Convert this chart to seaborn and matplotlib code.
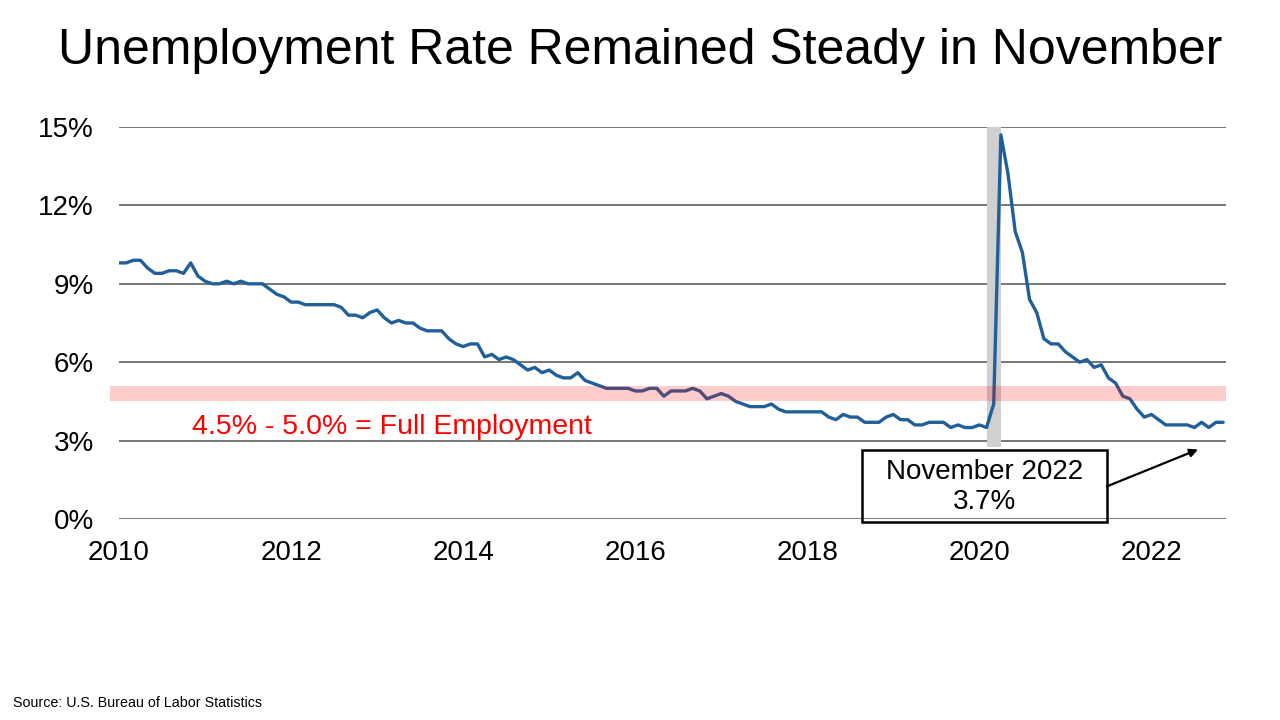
import matplotlib
matplotlib.use("Agg")
import matplotlib.pyplot as plt
from matplotlib.patches import Rectangle
import seaborn as sns
import pandas as pd

# monthly unemployment rate, Jan 2010 .. Nov 2022 (%)
rate_2010 = [9.8, 9.8, 9.9, 9.9, 9.6, 9.4, 9.4, 9.5, 9.5, 9.4, 9.8, 9.3]
rate_2011 = [9.1, 9.0, 9.0, 9.1, 9.0, 9.1, 9.0, 9.0, 9.0, 8.8, 8.6, 8.5]
rate_2012 = [8.3, 8.3, 8.2, 8.2, 8.2, 8.2, 8.2, 8.1, 7.8, 7.8, 7.7, 7.9]
rate_2013 = [8.0, 7.7, 7.5, 7.6, 7.5, 7.5, 7.3, 7.2, 7.2, 7.2, 6.9, 6.7]
rate_2014 = [6.6, 6.7, 6.7, 6.2, 6.3, 6.1, 6.2, 6.1, 5.9, 5.7, 5.8, 5.6]
rate_2015 = [5.7, 5.5, 5.4, 5.4, 5.6, 5.3, 5.2, 5.1, 5.0, 5.0, 5.0, 5.0]
rate_2016 = [4.9, 4.9, 5.0, 5.0, 4.7, 4.9, 4.9, 4.9, 5.0, 4.9, 4.6, 4.7]
rate_2017 = [4.8, 4.7, 4.5, 4.4, 4.3, 4.3, 4.3, 4.4, 4.2, 4.1, 4.1, 4.1]
rate_2018 = [4.1, 4.1, 4.1, 3.9, 3.8, 4.0, 3.9, 3.9, 3.7, 3.7, 3.7, 3.9]
rate_2019 = [4.0, 3.8, 3.8, 3.6, 3.6, 3.7, 3.7, 3.7, 3.5, 3.6, 3.5, 3.5]
rate_2020 = [3.6, 3.5, 4.4, 14.7, 13.2, 11.0, 10.2, 8.4, 7.9, 6.9, 6.7, 6.7]
rate_2021 = [6.4, 6.2, 6.0, 6.1, 5.8, 5.9, 5.4, 5.2, 4.7, 4.6, 4.2, 3.9]
rate_2022 = [4.0, 3.8, 3.6, 3.6, 3.6, 3.6, 3.5, 3.7, 3.5, 3.7, 3.7]

year_labels = ["2010", "2012", "2014", "2016", "2018", "2020", "2022"]
y_ticks = [0, 3, 6, 9, 12, 15]
full_emp_band = (4.5, 5.1)
recession_months = (121, 123)  # Feb 2020 .. Apr 2020

rates = (rate_2010 + rate_2011 + rate_2012 + rate_2013 + rate_2014 + rate_2015
         + rate_2016 + rate_2017 + rate_2018 + rate_2019 + rate_2020 + rate_2021
         + rate_2022)
df = pd.DataFrame({"month": range(len(rates)), "rate": rates})

sns.set_style("white")
plt.rcParams["font.family"] = ["Liberation Sans", "DejaVu Sans"]
plt.rcParams["text.color"] = "black"

fig = plt.figure(figsize=(12.8, 7.2), dpi=100)
ax = fig.add_axes([119 / 1280, 1 - 519 / 720, 1107 / 1280, 392 / 720])

# recession shading (stops just under the 3% line)
ax.fill_betweenx([2.75, 15], recession_months[0], recession_months[1],
                 color="#d0d0d0", lw=0, zorder=1.5)
sns.lineplot(data=df, x="month", y="rate", color="#215f9a", lw=2.4, ax=ax, zorder=2)
ax.axhspan(*full_emp_band, color="#ff0000", alpha=0.2, lw=0, zorder=3,
           xmin=-0.008, xmax=1.0, clip_on=False)

ax.set_xlim(0, 154.4)
ax.set_ylim(0, 15)
ax.set_yticks(y_ticks)
ax.set_yticklabels([f"{v}%" for v in y_ticks])
ax.set_xticks([24 * i for i in range(len(year_labels))])
ax.set_xticklabels(year_labels)
ax.tick_params(axis="both", labelsize=20, length=0, colors="black")
ax.tick_params(axis="x", pad=15)
ax.tick_params(axis="y", pad=18)
ax.set_xlabel("")
ax.set_ylabel("")
ax.yaxis.grid(True, color="#6b6b6b", lw=1.3)
ax.set_axisbelow(True)
for s in ax.spines.values():
    s.set_visible(False)

ax.text(10.2, 3.52, "4.5% - 5.0% = Full Employment", color="#ff0000", fontsize=20.5,
        ha="left", va="center")

# callout box for the latest reading
ax.add_patch(Rectangle((103.6, -0.1), 34.2, 2.74, fill=False, ec="black", lw=1.8,
                       clip_on=False, zorder=5))
ax.text(120.7, 1.22, "November 2022\n3.7%", fontsize=20, ha="center", va="center",
        linespacing=1.2, zorder=6)
ax.annotate("", xy=(150.5, 2.66), xytext=(137.8, 1.25),
            arrowprops=dict(arrowstyle="-|>", color="black", lw=1.6,
                            mutation_scale=12, shrinkA=0, shrinkB=0),
            annotation_clip=False)

fig.text(0.5, 1 - 51 / 720, "Unemployment Rate Remained Steady in November",
         fontsize=36, ha="center", va="center")
fig.text(13 / 1280, 1 - 703 / 720, "Source: U.S. Bureau of Labor Statistics",
         fontsize=10.3, ha="left", va="center")

fig.savefig("out.png", dpi=100)
